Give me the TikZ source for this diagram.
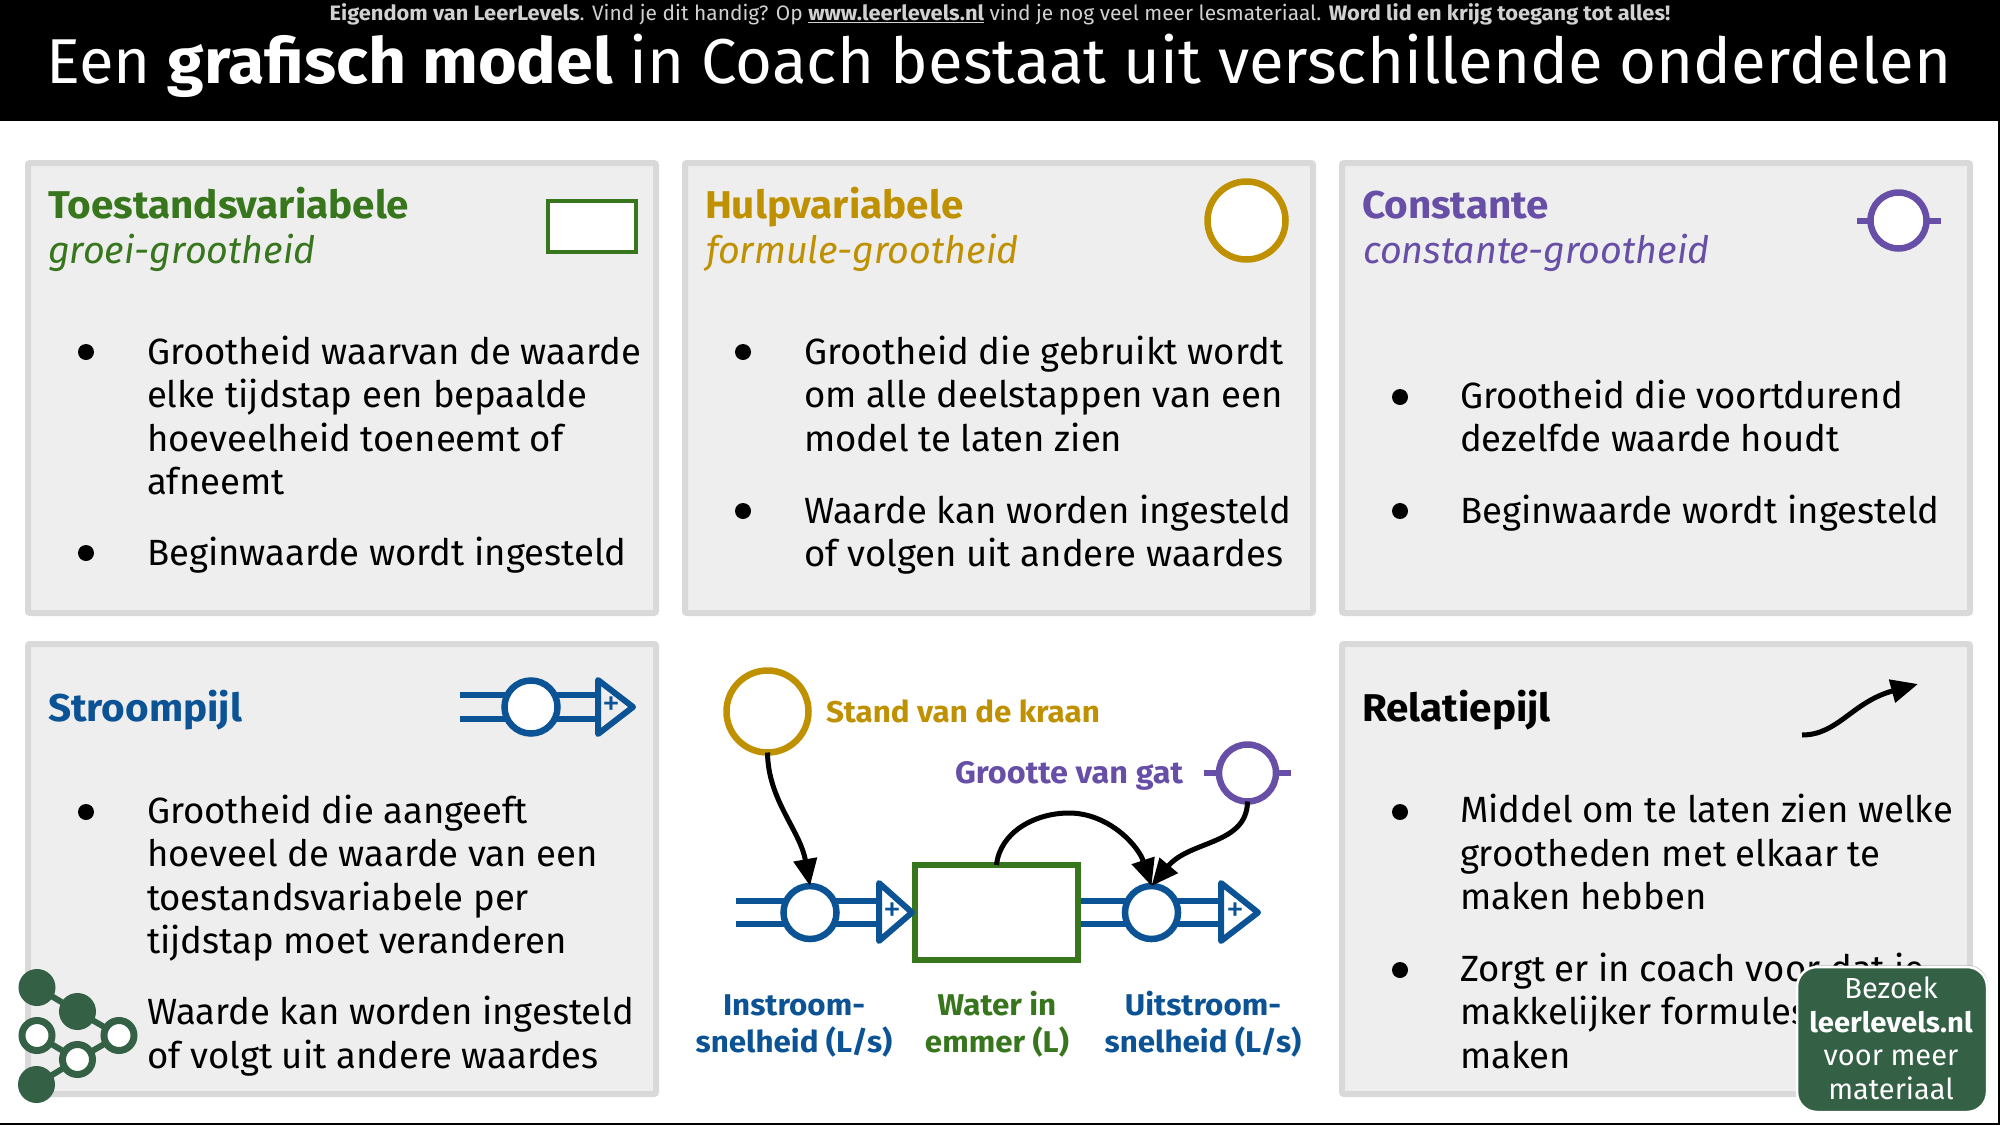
\documentclass[tikz,border=0pt]{standalone}
\usepackage{fontspec}
\setmainfont{Fira Sans}[BoldFeatures={FakeStretch=1.045}]
\usetikzlibrary{positioning,arrows.meta,shadows}
\definecolor{toestandgroen}{HTML}{38761D}
\definecolor{hulpgoud}{HTML}{BF9000}
\definecolor{constantpaars}{HTML}{674EA7}
\definecolor{stroomblauw}{HTML}{0B5394}
\definecolor{logogroen}{HTML}{346046}
\definecolor{randgrijs}{HTML}{D9D9D9}
\definecolor{vakgrijs}{HTML}{EEEEEE}
\newcommand{\bodyfont}{\fontsize{36.5}{43.5}\selectfont}
\newcommand{\kopfont}{\fontsize{38.7}{44}\selectfont\bfseries}
\newcommand{\subfont}{\fontsize{37.7}{44}\selectfont\itshape}
\newcommand{\labelfont}{\fontsize{30}{37}\selectfont\bfseries}
\newcommand{\badgefont}{\fontsize{29}{33.5}\selectfont}

\begin{document}
\begin{tikzpicture}[x=1pt,y=-1pt,
  every node/.style={inner sep=0,outer sep=0},
  panel/.style={draw=randgrijs,fill=vakgrijs,line width=6,rounded corners=2,
    minimum width=628,minimum height=450},
  kop/.style={anchor=base west,font=\kopfont},
  sub/.style={anchor=base west,font=\subfont},
  body/.style={anchor=base west,align=left,font=\bodyfont},
  bullet/.style={circle,fill=black,minimum size=16},
  lab/.style={anchor=base,align=center,font=\labelfont},
  varbox/.style={circle,draw=#1,fill=white,line width=6.5},
  stub/.style={draw=constantpaars,line width=6},
  pipe/.style={draw=stroomblauw,line width=6},
  tip/.style={draw=stroomblauw,line width=6,line join=round},
  plus/.style={text=stroomblauw,font=\fontsize{36}{36}\selectfont},
  rel/.style={draw=black,line width=5,-{Triangle[length=27,width=23]}},
  logovol/.style={circle,fill=logogroen,draw=logogroen,line width=7,minimum size=30},
  logoleeg/.style={circle,fill=white,draw=logogroen,line width=7,minimum size=30},
  logolink/.style={draw=logogroen,line width=6}
  ]
\useasboundingbox (0,0) rectangle (2000,1125);
\fill[white] (0,0) rectangle (2000,1125);
\draw[black,line width=2] (0,1124) -- (2000,1124);
\draw[black,line width=2] (1999,0) -- (1999,1125);

% banner
\fill[black] (0,0) rectangle (1998,121);
\node[anchor=base,text=black!18,font=\fontsize{20.9}{24}\selectfont] (eigendom) at (1000,20.5)
  {\textbf{Eigendom van LeerLevels}. Vind je dit handig? Op \underline{\textbf{www.leerlevels.nl}} vind je nog veel meer lesmateriaal. \textbf{Word lid en krijg toegang tot alles!}};
\node[anchor=base,text=white,font=\fontsize{63.4}{70}\selectfont] (titel) at (999,83)
  {Een \textbf{grafisch model} in Coach bestaat uit verschillende onderdelen};

% panels
\node[panel] (toestand) at (342,388) {};
\node[panel] (hulp) at (999,388) {};
\node[panel] (constante) at (1656,388) {};
\node[panel] (stroom) at (342,869) {};
\node[panel] (relatie) at (1656,869) {};

% toestandsvariabele
\node[kop,text=toestandgroen] (toestandkop) at (48,218) {Toestandsvariabele};
\node[sub,text=toestandgroen] (toestandsub) at (48,263) {groei-grootheid};
\node[draw=toestandgroen,fill=white,line width=4.5,minimum width=88,minimum height=51] (toestandicon) at (592,226.5) {};
\node[bullet] (t1) at (86,352) {};
\node[body] (t1tekst) at (147,494.5) {Grootheid waarvan de waarde\\elke tijdstap een bepaalde\\hoeveelheid toeneemt of\\afneemt};
\node[bullet] (t2) at (86,553) {};
\node[body] (t2tekst) at (147,565) {Beginwaarde wordt ingesteld};

% hulpvariabele
\node[kop,text=hulpgoud] (hulpkop) at (705,218) {Hulpvariabele};
\node[sub,text=hulpgoud] (hulpsub) at (706,263) {formule-grootheid};
\node[varbox=hulpgoud,minimum size=78] (hulpicon) at (1246.5,220.5) {};
\node[bullet] (h1) at (743,352) {};
\node[body] (h1tekst) at (804,451) {Grootheid die gebruikt wordt\\om alle deelstappen van een\\model te laten zien};
\node[bullet] (h2) at (743,511) {};
\node[body] (h2tekst) at (804,566.5) {Waarde kan worden ingesteld\\of volgen uit andere waardes};

% constante
\node[kop,text=constantpaars] (constantekop) at (1362,218) {Constante};
\node[sub,text=constantpaars] (constantesub) at (1363,263) {constante-grootheid};
\draw[stub] (1856.5,220.5) -- (1941,220.5);
\node[varbox=constantpaars,minimum size=56] (constanteicon) at (1898.5,220.5) {};
\node[bullet] (c1) at (1400,397) {};
\node[body] (c1tekst) at (1460,451.5) {Grootheid die voortdurend\\dezelfde waarde houdt};
\node[bullet] (c2) at (1400,511) {};
\node[body] (c2tekst) at (1460,523) {Beginwaarde wordt ingesteld};

% stroompijl
\node[kop,text=stroomblauw] (stroomkop) at (48,721) {Stroompijl};
\draw[pipe] (460,695) -- (598,695);
\draw[pipe] (460,719) -- (598,719);
\node[varbox=stroomblauw,minimum size=53] (stroomicon) at (531,707) {};
\draw[tip] (598,680) -- (633,707) -- (598,734) -- cycle;
\node[plus] (stroomplus) at (611,706) {+};
\node[bullet] (s1) at (86,812) {};
\node[body] (s1tekst) at (147,953.5) {Grootheid die aangeeft\\hoeveel de waarde van een\\toestandsvariabele per\\tijdstap moet veranderen};
\node[body] (s2tekst) at (147,1068) {Waarde kan worden ingesteld\\of volgt uit andere waardes};

% relatiepijl
\node[kop,text=black] (relatiekop) at (1362,721) {Relatiepijl};
\coordinate (relbegin) at (1802,735);
\coordinate (releinde) at (1918,684);
\draw[rel] (relbegin) .. controls (1838,735) and (1852,702) .. (releinde);
\node[bullet] (r1) at (1400,812) {};
\node[body] (r1tekst) at (1460,909.5) {Middel om te laten zien welke\\grootheden met elkaar te\\maken hebben};
\node[bullet] (r2) at (1400,970) {};
\node[body] (r2tekst) at (1460,1068) {Zorgt er in coach voor dat je\\makkelijker formules kan\\maken};

% model in het midden
\draw[pipe] (736,901) -- (880,901);
\draw[pipe] (736,924) -- (880,924);
\draw[pipe] (1081,901) -- (1221,901);
\draw[pipe] (1081,924) -- (1221,924);
\node[varbox=hulpgoud,minimum size=82] (kraan) at (767.5,711.5) {};
\node[varbox=stroomblauw,minimum size=53] (instroom) at (810,912.5) {};
\node[varbox=stroomblauw,minimum size=53] (uitstroom) at (1151.5,912.5) {};
\node[draw=toestandgroen,fill=white,line width=6,minimum width=163,minimum height=95] (emmer) at (996.5,912.5) {};
\draw[tip] (879,883) -- (912,912.5) -- (879,941) -- cycle;
\draw[tip] (1221,883) -- (1258,912.5) -- (1221,941) -- cycle;
\node[plus] (inplus) at (892,912) {+};
\node[plus] (uitplus) at (1235,912) {+};
\draw[stub] (1204,773) -- (1291,773);
\node[varbox=constantpaars,minimum size=57] (gat) at (1247.5,773) {};
\draw[rel] (kraan.south) .. controls (768,800) and (800,830) .. (instroom.north);
\draw[rel] (emmer.north) .. controls (1000,832) and (1035,813) .. (1069,813) .. controls (1108,813) and (1138,845) .. (uitstroom.north);
\draw[rel] (gat.south) .. controls (1247,845) and (1190,840) .. (uitstroom.north);
\node[anchor=base west,text=hulpgoud,font=\labelfont] (kraanlabel) at (826,722) {Stand van de kraan};
\node[anchor=base west,text=constantpaars,font=\fontsize{31}{37}\selectfont\bfseries] (gatlabel) at (955,783) {Grootte van gat};
\node[lab,text=stroomblauw] (inlabel) at (794,1052) {Instroom-\\snelheid (L/s)};
\node[lab,text=toestandgroen] (emmerlabel) at (997,1052) {Water in\\emmer (L)};
\node[lab,text=stroomblauw] (uitlabel) at (1203,1052) {Uitstroom-\\snelheid (L/s)};

% logo
\node[logovol] (la) at (37,987.5) {};
\node[logovol] (lb) at (77.5,1011.5) {};
\node[logoleeg] (lc) at (37,1035.5) {};
\node[logoleeg] (ld) at (119,1035.5) {};
\node[logoleeg] (le) at (77.5,1059.5) {};
\node[logovol] (lf) at (36.5,1084.5) {};
\draw[logolink] (la) -- (lb);
\draw[logolink] (lb) -- (ld);
\draw[logolink] (lc) -- (le);
\draw[logolink] (le) -- (ld);
\draw[logolink] (lf) -- (le);

% badge
\node[draw=white,fill=logogroen,line width=2.5,rounded corners=20,minimum width=190,minimum height=145,
  drop shadow={shadow xshift=1,shadow yshift=-2,opacity=.35}] (bezoek) at (1892,1039.5) {};
\node[anchor=base,align=center,text=white,font=\badgefont] (bezoektekst) at (1891,1099) {Bezoek\\{\fontsize{28}{33.5}\selectfont\textbf{leerlevels.nl}}\\voor meer\\materiaal};
\end{tikzpicture}
\end{document}
